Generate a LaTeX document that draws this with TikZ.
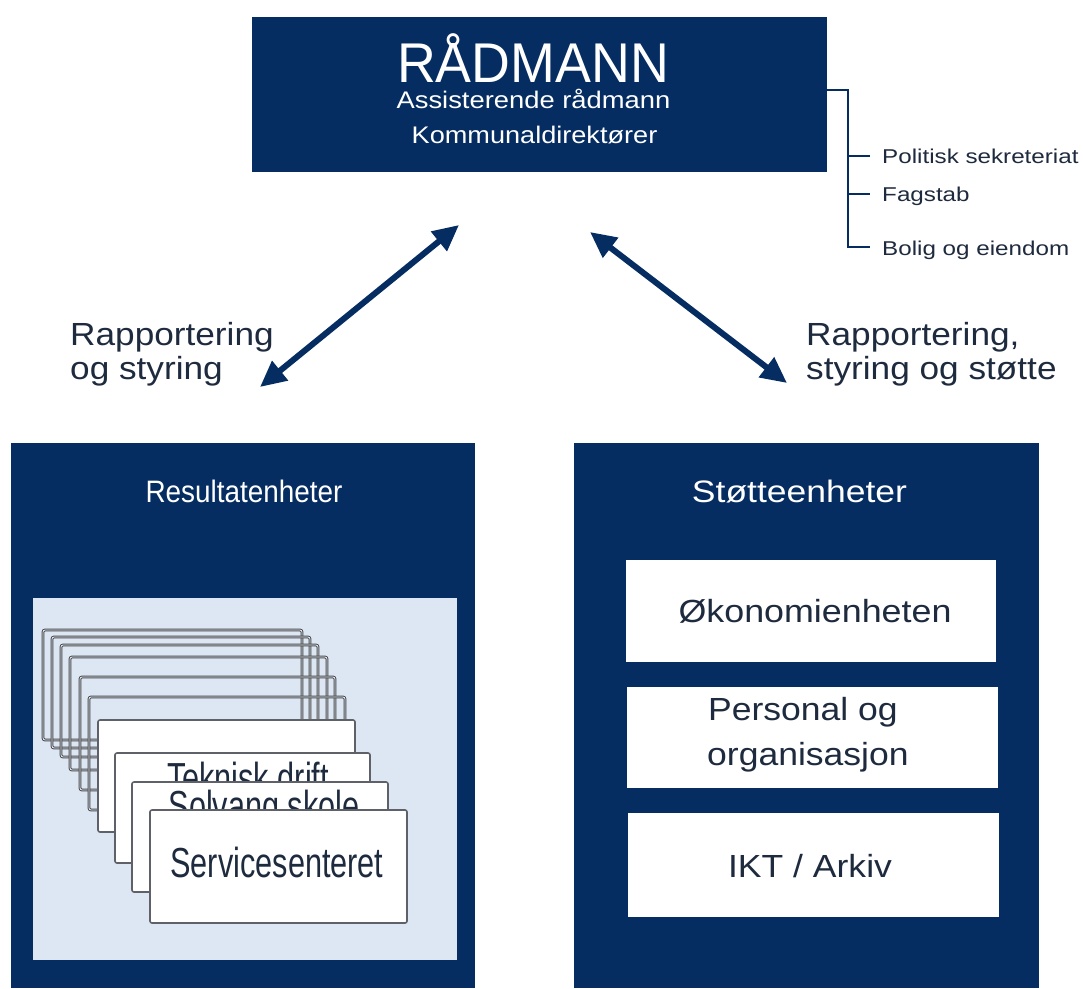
\documentclass[tikz,border=0pt]{standalone}
\usepackage{fontspec}
\usepackage{graphicx}
\setmainfont{Liberation Sans}
\usetikzlibrary{arrows.meta}
\definecolor{navy}{RGB}{5,45,98}
\definecolor{panel}{RGB}{221,230,243}
\definecolor{ink}{RGB}{30,42,62}
\definecolor{cardline}{RGB}{95,97,104}
\definecolor{backline}{RGB}{70,72,78}
\newcommand{\fsz}[1]{\fontsize{#1}{#1}\selectfont}
\newcommand{\hsc}[2]{\scalebox{#1}[1]{#2}}
\begin{document}
\begin{tikzpicture}[x=1pt,y=-1pt,
  navybox/.style={fill=navy,draw=none,anchor=north west,inner sep=0pt,outer sep=0pt},
  panelbox/.style={fill=panel,draw=none,anchor=north west,inner sep=0pt,outer sep=0pt},
  wbox/.style={fill=white,draw=none,anchor=north west,inner sep=0pt,outer sep=0pt},
  backcard/.style={draw=backline,line width=1pt,double=white!60!panel,double distance=0.8pt,rounded corners=2pt,anchor=north west,inner sep=0pt,outer sep=0pt},
  frontcard/.style={fill=white,draw=cardline,line width=1.6pt,rounded corners=2pt,anchor=north west,inner sep=0pt,outer sep=0pt},
  wtxt/.style={text=white,inner sep=0pt,anchor=base},
  dtxt/.style={text=ink,inner sep=0pt,anchor=base},
  ltxt/.style={text=ink,inner sep=0pt,anchor=base west},
  brk/.style={draw=navy,line width=2pt},
  dbl/.style={draw=navy,line width=6pt,{Triangle[length=26pt,width=24pt]}-{Triangle[length=26pt,width=24pt]}}
]
\fill[white] (0,0) rectangle (1083,988);
\useasboundingbox (0,0) rectangle (1083,988);

% top box
\node[navybox,minimum width=575pt,minimum height=155pt] (top) at (252,17) {};
\node[wtxt,font=\fsz{56}] (t1) at (533,82) {\hsc{0.96}{RÅDMANN}};
\node[wtxt,font=\fsz{24}] (t2) at (533.5,108) {\hsc{1.14}{Assisterende rådmann}};
\node[wtxt,font=\fsz{24}] (t3) at (534.5,143) {\hsc{1.13}{Kommunaldirektører}};

% bracket
\coordinate (bt) at (848,90);
\coordinate (bb) at (848,247);
\coordinate (k1a) at (848,156);
\coordinate (k1b) at (870,156);
\coordinate (k2a) at (848,194);
\coordinate (k2b) at (870,194);
\coordinate (k3b) at (870,247);
\draw[brk] (top.east |- bt) -- (bt) -- (bb) -- (k3b);
\draw[brk] (k1a) -- (k1b);
\draw[brk] (k2a) -- (k2b);
\node[ltxt,font=\fsz{20}] (s1) at (882,163) {\hsc{1.21}{Politisk sekreteriat}};
\node[ltxt,font=\fsz{20}] (s2) at (882,201) {\hsc{1.21}{Fagstab}};
\node[ltxt,font=\fsz{20}] (s3) at (882,255) {\hsc{1.21}{Bolig og eiendom}};

% arrows
\coordinate (a1a) at (459,225);
\coordinate (a1b) at (260,387);
\coordinate (a2a) at (590,232);
\coordinate (a2b) at (787,383);
\draw[dbl] (a1a) -- (a1b);
\draw[dbl] (a2a) -- (a2b);

% arrow labels
\node[ltxt,font=\fsz{32}] (l1) at (70,345) {\hsc{1.1}{Rapportering}};
\node[ltxt,font=\fsz{32}] (l2) at (70,379) {\hsc{1.1}{og styring}};
\node[ltxt,font=\fsz{32}] (r1) at (806,345) {\hsc{1.1}{Rapportering,}};
\node[ltxt,font=\fsz{32}] (r2) at (806,379) {\hsc{1.1}{styring og støtte}};

% left box
\node[navybox,minimum width=464pt,minimum height=545pt] (lb) at (11,443) {};
\node[wtxt,font=\fsz{31}] (lbt) at (244,502) {\hsc{0.9}{Resultatenheter}};
\node[panelbox,minimum width=424pt,minimum height=362pt] (pn) at (33,598) {};

\node[backcard,minimum width=259pt,minimum height=110pt] (c1) at (43,630) {};
\node[backcard,minimum width=258pt,minimum height=111pt] (c2) at (52,637) {};
\node[backcard,minimum width=257pt,minimum height=112pt] (c3) at (61,645) {};
\node[backcard,minimum width=257pt,minimum height=113pt] (c4) at (70,657) {};
\node[backcard,minimum width=255pt,minimum height=113pt] (c5) at (80,677) {};
\node[backcard,minimum width=256pt,minimum height=113pt] (c6) at (89,697) {};
\node[frontcard,minimum width=257pt,minimum height=112pt] (c7) at (98,720) {};
\node[frontcard,minimum width=255pt,minimum height=110pt] (c8) at (115,753) {};
\node[dtxt,font=\fsz{42}] (c8t) at (248,792) {\hsc{0.73}{Teknisk drift}};
\node[frontcard,minimum width=256pt,minimum height=110pt] (c9) at (132,782) {};
\node[dtxt,font=\fsz{42}] (c9t) at (264,820) {\hsc{0.73}{Solvang skole}};
\node[frontcard,minimum width=257pt,minimum height=113pt] (c10) at (150,810) {};
\node[dtxt,font=\fsz{42}] (c10t) at (277,877) {\hsc{0.73}{Servicesenteret}};

% right box
\node[navybox,minimum width=465pt,minimum height=545pt] (rb) at (574,443) {};
\node[wtxt,font=\fsz{31}] (rbt) at (799.5,502) {\hsc{1.145}{Støtteenheter}};
\node[wbox,minimum width=370pt,minimum height=102pt] (w1) at (626,560) {};
\node[wbox,minimum width=371pt,minimum height=101pt] (w2) at (627,687) {};
\node[wbox,minimum width=371pt,minimum height=104pt] (w3) at (628,813) {};
\node[dtxt,font=\fsz{32}] (w1t) at (815,622) {\hsc{1.12}{Økonomienheten}};
\node[ltxt,font=\fsz{32}] (w2t) at (708,720) {\hsc{1.11}{Personal og}};
\node[ltxt,font=\fsz{32}] (w2u) at (707,765) {\hsc{1.11}{organisasjon}};
\node[dtxt,font=\fsz{32}] (w3t) at (810,877) {\hsc{1.11}{IKT / Arkiv}};
\end{tikzpicture}
\end{document}
